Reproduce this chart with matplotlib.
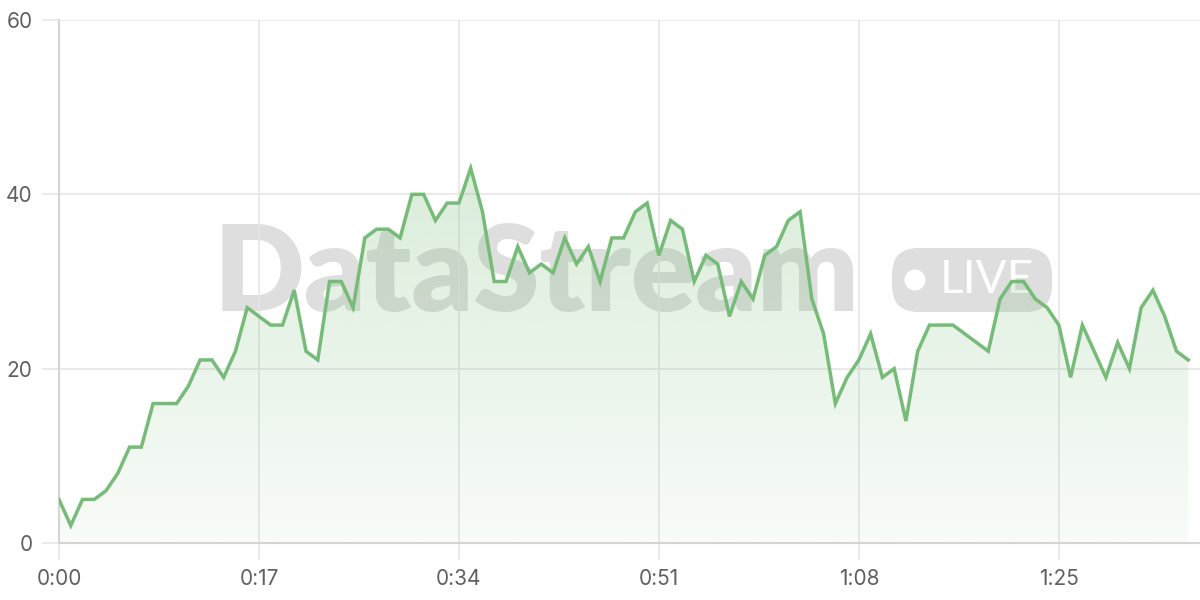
import numpy as np
import matplotlib.pyplot as plt
from matplotlib.patches import FancyBboxPatch, Ellipse

# seconds since start, one sample per second
values = [5, 2, 5, 5, 6, 8, 11, 11, 16, 16, 16, 18, 21, 21, 19, 22, 27, 26, 25, 25,
          29, 22, 21, 30, 30, 27, 35, 36, 36, 35, 40, 40, 37, 39, 39, 43, 38, 30, 30, 34,
          31, 32, 31, 35, 32, 34, 30, 35, 35, 38, 39, 33, 37, 36, 30, 33, 32, 26, 30, 28,
          33, 34, 37, 38, 28, 24, 16, 19, 21, 24, 19, 20, 14, 22, 25, 25, 25, 24, 23, 22,
          28, 30, 30, 28, 27, 25, 19, 25, 22, 19, 23, 20, 27, 29, 26, 22, 21]
seconds = np.arange(len(values))
xticks = [0, 17, 34, 51, 68, 85]
xlabels = ['%d:%02d' % (s // 60, s % 60) for s in xticks]
yticks = [0, 20, 40, 60]

green = '#76bb77'
tick_col = '#606060'

fig = plt.figure(figsize=(12, 6), dpi=100)
ax = fig.add_axes([59 / 1200, 57 / 600, 1141 / 1200, 523 / 600])

# watermark, sits under the fill and the line
ax.text(536 / 1200, 1 - 276 / 600, 'DataStream', fontsize=86, fontweight='heavy',
        fontfamily='Lato', color='black', alpha=0.13, ha='center', va='center',
        transform=fig.transFigure, zorder=0.1)
badge = FancyBboxPatch((892 / 1200, 1 - 312 / 600), 160 / 1200, 64 / 600,
                       boxstyle='round,pad=0,rounding_size=0.022',
                       transform=fig.transFigure, facecolor='black', alpha=0.13,
                       edgecolor='none', zorder=0.1, mutation_aspect=2)
ax.add_artist(badge)
ax.add_artist(Ellipse((915 / 1200, 1 - 280 / 600), 21 / 1200, 21 / 600,
                      transform=fig.transFigure, facecolor='white',
                      edgecolor='none', zorder=0.15))
ax.text(987 / 1200, 1 - 280 / 600, 'LIVE', fontsize=33, fontfamily='Lato',
        color='white', ha='center', va='center', transform=fig.transFigure,
        zorder=0.15)

# gradient fill under the line
fill = ax.fill_between(seconds, values, 0, color='none', lw=0)
grad = np.linspace(0.05, 0.27, 256).reshape(-1, 1)
rgba = np.zeros((256, 1, 4))
rgba[:, :, 0] = 0x76 / 255
rgba[:, :, 1] = 0xbb / 255
rgba[:, :, 2] = 0x77 / 255
rgba[:, :, 3] = grad
img = ax.imshow(rgba, extent=[0, seconds[-1], 0, max(values)], origin='lower',
                aspect='auto', zorder=1)
img.set_clip_path(fill.get_paths()[0], transform=ax.transData)

ax.plot(seconds, values, color=green, lw=2.5, zorder=4, solid_joinstyle='miter')

ax.set_xlim(0, 97)
ax.set_ylim(0, 60)
ax.set_xticks(xticks)
ax.set_xticklabels(xlabels)
ax.set_yticks(yticks)
ax.grid(True, color='#e6e6e6', lw=1.2, zorder=0.05)
ax.set_axisbelow(True)
for s in ['top', 'right']:
    ax.spines[s].set_visible(False)
for s in ['left', 'bottom']:
    ax.spines[s].set_color('#d4d4d4')
    ax.spines[s].set_linewidth(1.5)
ax.tick_params(axis='both', length=12, color='#e6e6e6', width=1.2,
               labelsize=15, labelcolor=tick_col, pad=7)
for lab in ax.get_xticklabels() + ax.get_yticklabels():
    lab.set_fontfamily('Inter')

plt.savefig('out.png', dpi=100)
